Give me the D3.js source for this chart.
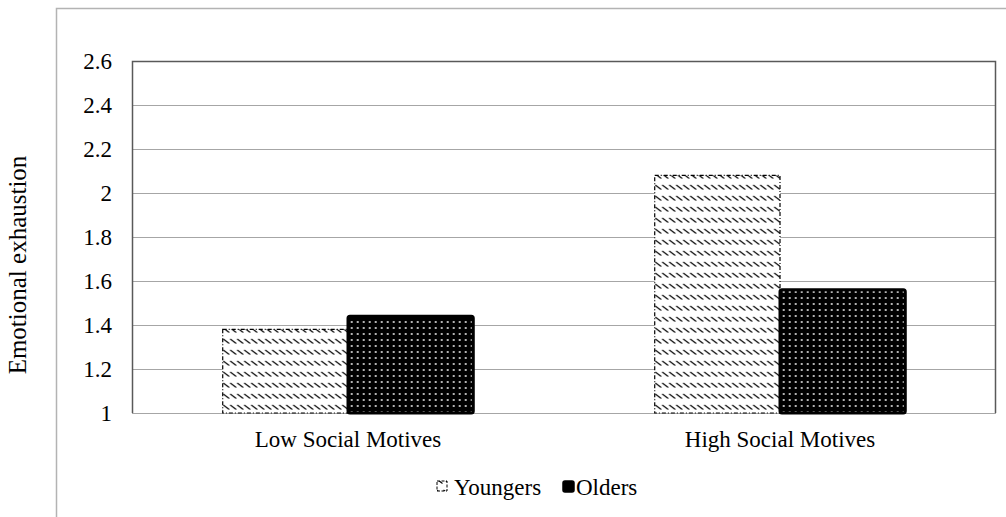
<!DOCTYPE html>
<html>
<head>
<meta charset="utf-8">
<script src="https://cdnjs.cloudflare.com/ajax/libs/d3/7.8.5/d3.min.js"></script>
<style>
  body { margin: 0; background: #fff; }
  text { font-family: "Liberation Serif", "Times New Roman", serif; fill: #000; }
</style>
</head>
<body>
<div id="chart"></div>
<script>
var categories = ["Low Social Motives", "High Social Motives"];
var seriesNames = ["Youngers", "Olders"];
var youngers = [1.38, 2.08];
var olders = [1.44, 1.56];
var yTicks = [1, 1.2, 1.4, 1.6, 1.8, 2, 2.2, 2.4, 2.6];

var data = categories.map(function(c, i) {
    return {cat: c, values: [{s: "Youngers", v: youngers[i]}, {s: "Olders", v: olders[i]}]};
});

var W = 1006, H = 517;
var margin = {top: 61, right: 10, bottom: 104, left: 132},
    width = W - margin.left - margin.right,
    height = H - margin.top - margin.bottom;
var fs = "23px";

var svg = d3.select("#chart").append("svg")
    .attr("width", W)
    .attr("height", H);

// patterns
var defs = svg.append("defs");
var py = defs.append("pattern")
    .attr("id", "pYoung")
    .attr("patternUnits", "userSpaceOnUse")
    .attr("width", 7).attr("height", 11);
py.append("rect").attr("width", 7).attr("height", 11).attr("fill", "#fff");
py.append("path")
    .attr("d", "M0.5,3 L6.5,7.5")
    .attr("stroke", "#000")
    .attr("stroke-width", 1.1);

var po = defs.append("pattern")
    .attr("id", "pOld")
    .attr("patternUnits", "userSpaceOnUse")
    .attr("width", 6).attr("height", 6);
po.append("rect").attr("width", 6).attr("height", 6).attr("fill", "#000");
po.append("circle").attr("cx", 3).attr("cy", 3).attr("r", 1).attr("fill", "#eee");

// outer frame
svg.append("path")
    .attr("d", "M56.5," + H + " L56.5,8.5 L" + W + ",8.5")
    .attr("fill", "none")
    .attr("stroke", "#b3b3b3")
    .attr("stroke-width", 1.5);

var g = svg.append("g")
    .attr("transform", "translate(" + margin.left + "," + margin.top + ")");

var x0 = d3.scaleBand()
    .domain(categories)
    .range([0, width])
    .paddingInner(0.42)
    .paddingOuter(0.21);

var x1 = d3.scaleBand()
    .domain(seriesNames)
    .range([0, x0.bandwidth()]);

var y = d3.scaleLinear()
    .domain([1, 2.6])
    .range([height, 0]);

// gridlines
g.append("g")
    .selectAll("line")
    .data(yTicks)
    .join("line")
    .attr("x1", 0).attr("x2", width)
    .attr("y1", function(d) { return Math.round(y(d)) + 0.5; })
    .attr("y2", function(d) { return Math.round(y(d)) + 0.5; })
    .attr("stroke", "#a6a6a6")
    .attr("stroke-width", 1.2);

// y axis labels
var yAxis = d3.axisLeft(y).tickValues(yTicks).tickSize(0).tickPadding(20)
    .tickFormat(function(d) { return d3.format("")(+d.toFixed(1)); });
g.append("g")
    .call(yAxis)
    .call(function(a) { a.select(".domain").remove(); })
    .selectAll("text")
    .style("font-size", fs)
    .style("font-family", "Liberation Serif");

// bars
var groups = g.selectAll(".grp")
    .data(data)
    .join("g")
    .attr("class", "grp")
    .attr("transform", function(d) { return "translate(" + x0(d.cat) + ",0)"; });

groups.selectAll("rect")
    .data(function(d) { return d.values; })
    .join("rect")
    .attr("x", function(d) { return x1(d.s); })
    .attr("y", function(d) { return y(d.v); })
    .attr("width", x1.bandwidth())
    .attr("height", function(d) { return height - y(d.v); })
    .attr("fill", function(d) { return d.s == "Youngers" ? "url(#pYoung)" : "url(#pOld)"; })
    .attr("stroke", "#000")
    .attr("stroke-width", function(d) { return d.s == "Youngers" ? 1.2 : 3; })
    .attr("stroke-dasharray", function(d) { return d.s == "Youngers" ? "4,2,1,2" : null; })
    .attr("rx", function(d) { return d.s == "Youngers" ? 0 : 2; });

// plot frame (top, left, right)
g.append("path")
    .attr("d", "M0.5," + height + " L0.5,0.5 L" + (width - 0.5) + ",0.5 L" + (width - 0.5) + "," + height)
    .attr("fill", "none")
    .attr("stroke", "#595959")
    .attr("stroke-width", 1.5);

// category labels
g.append("g")
    .attr("transform", "translate(0," + height + ")")
    .call(d3.axisBottom(x0).tickSize(0).tickPadding(18))
    .call(function(a) { a.select(".domain").remove(); })
    .selectAll("text")
    .style("font-size", fs)
    .style("font-family", "Liberation Serif");

// y axis title
svg.append("text")
    .attr("transform", "rotate(-90)")
    .attr("x", -265)
    .attr("y", 26)
    .style("text-anchor", "middle")
    .style("font-size", "25px")
    .text("Emotional exhaustion");

// legend
var legend = svg.append("g").attr("transform", "translate(436,487)");
var lx = [0, 126];
seriesNames.forEach(function(s, i) {
    var lg = legend.append("g").attr("transform", "translate(" + lx[i] + ",0)");
    lg.append("rect")
        .attr("x", 1).attr("y", -6)
        .attr("width", i == 1 ? 11 : 10).attr("height", i == 1 ? 11 : 10)
        .attr("rx", i == 1 ? 2 : 0)
        .attr("fill", i == 0 ? "url(#pYoung)" : "#000")
        .attr("stroke", "#000")
        .attr("stroke-width", i == 0 ? 1 : 1.5)
        .attr("stroke-dasharray", i == 0 ? "3,1.5" : null);
    lg.append("text")
        .attr("x", i == 0 ? 18 : 14)
        .attr("y", 0)
        .attr("dy", "0.35em")
        .style("font-size", fs)
        .text(s);
});
</script>
</body>
</html>
